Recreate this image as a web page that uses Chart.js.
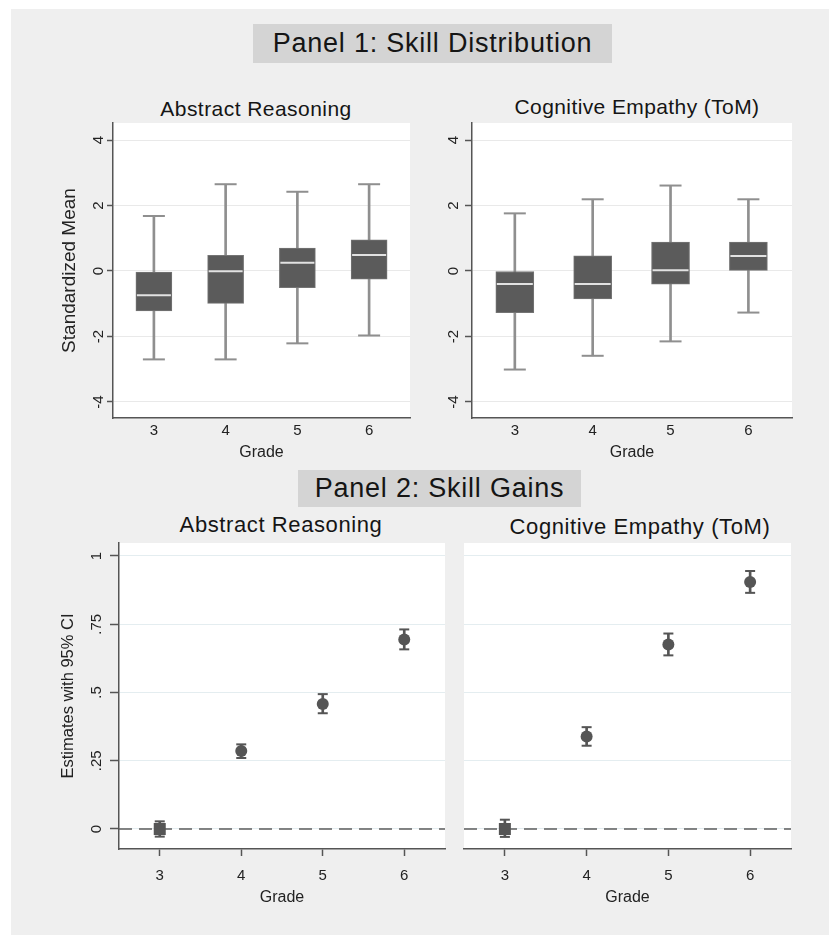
<!DOCTYPE html>
<html>
<head>
<meta charset="utf-8">
<script src="https://cdn.jsdelivr.net/npm/chart.js@4"></script>
<style>
  body { margin: 0; width: 829px; height: 935px; position: relative; overflow: hidden; background: #fff;
         font-family: "Liberation Sans", Arial, sans-serif; }
  #bg { position: absolute; left: 11px; top: 9px; width: 818px; height: 926px; background: #efefef; }
  .panel { position: absolute; background: #d4d4d4; color: #151515; font-size: 27px; letter-spacing: 0.78px;
           display: flex; align-items: center; justify-content: center; white-space: nowrap; }
  .sub { position: absolute; color: #151515; white-space: nowrap; line-height: 1; transform: translate(-50%, -50%); }
  canvas { position: absolute; }
</style>
</head>
<body>
<div id="bg"></div>
<div class="panel" style="left:253px; top:24px; width:359px; height:39px;">Panel 1: Skill Distribution</div>
<div class="panel" style="left:298px; top:470px; width:283px; height:37px;">Panel 2: Skill Gains</div>

<div class="sub" style="left:256px; top:108px; font-size:21px; letter-spacing:0.45px;">Abstract Reasoning</div>
<div class="sub" style="left:637px; top:106px; font-size:21px; letter-spacing:0.4px;">Cognitive Empathy (ToM)</div>
<div class="sub" style="left:281px; top:525px; font-size:22px; letter-spacing:0.6px;">Abstract Reasoning</div>
<div class="sub" style="left:640px; top:527px; font-size:22px; letter-spacing:0.6px;">Cognitive Empathy (ToM)</div>

<canvas id="p1a" width="380" height="355" style="left:40px; top:115px;"></canvas>
<canvas id="p1b" width="382" height="355" style="left:420px; top:115px;"></canvas>
<canvas id="p2a" width="415" height="380" style="left:40px; top:535px;"></canvas>
<canvas id="p2b" width="346" height="380" style="left:455px; top:535px;"></canvas>

<script>
var grades = [3, 4, 5, 6];

// Panel 1: box plots (lower whisker, Q1, median, Q3, upper whisker)
var arMin = [-2.70, -2.70, -2.21, -1.97];
var arQ1  = [-1.22, -0.99, -0.51, -0.25];
var arMed = [-0.74, -0.01, 0.25, 0.49];
var arQ3  = [-0.03, 0.48, 0.70, 0.95];
var arMax = [1.68, 2.65, 2.42, 2.65];

var ceMin = [-3.01, -2.59, -2.15, -1.27];
var ceQ1  = [-1.27, -0.85, -0.40, 0.02];
var ceMed = [-0.40, -0.40, 0.02, 0.46];
var ceQ3  = [0.00, 0.46, 0.88, 0.88];
var ceMax = [1.76, 2.19, 2.61, 2.19];

// Panel 2: estimates with 95% CI
var arEst = [0.000, 0.286, 0.458, 0.694];
var arLo  = [-0.028, 0.260, 0.424, 0.658];
var arHi  = [0.028, 0.310, 0.494, 0.731];

var ceEst = [0.000, 0.339, 0.676, 0.905];
var ceLo  = [-0.029, 0.305, 0.636, 0.865];
var ceHi  = [0.034, 0.373, 0.716, 0.945];

var p1Ticks = [-4, -2, 0, 2, 4];
var p1Labels = ['-4', '-2', '0', '2', '4'];
var p2Ticks = [0, 0.25, 0.5, 0.75, 1];
var p2Labels = ['0', '.25', '.5', '.75', '1'];

var FONT = '"Liberation Sans", Arial, sans-serif';
Chart.defaults.font.family = FONT;
Chart.defaults.color = '#222';

var axisColor = '#555';
var boxColor = '#5b5b5b';
var whiskerColor = '#8f8f8f';
var markColor = '#555';

// white plot region
var plotBg = {
  id: 'plotBg',
  beforeDraw: function(chart) {
    var a = chart.chartArea, ctx = chart.ctx;
    ctx.save();
    ctx.fillStyle = '#fff';
    ctx.fillRect(a.left, a.top, a.right - a.left, a.bottom - a.top);
    ctx.restore();
  }
};

// vertical (rotated) y tick labels, as Stata draws them
var rotYTicks = {
  id: 'rotYTicks',
  afterDraw: function(chart, args, opts) {
    if (!opts.labels) return;
    var s = chart.scales.y, ctx = chart.ctx;
    ctx.save();
    ctx.font = '15px ' + FONT;
    ctx.fillStyle = '#222';
    ctx.textAlign = 'center';
    ctx.textBaseline = 'middle';
    for (var i = 0; i < opts.values.length; i++) {
      ctx.save();
      ctx.translate(opts.x, s.getPixelForValue(opts.values[i]));
      ctx.rotate(-Math.PI / 2);
      ctx.fillText(opts.labels[i], 0, 1);
      ctx.restore();
    }
    ctx.restore();
  }
};

function xScale(min, max, height, tickLen, pad) {
  return {
    type: 'linear', min: min, max: max, offset: false,
    afterBuildTicks: function(s) { s.ticks = grades.map(function(g) { return {value: g}; }); },
    afterFit: function(s) { s.height = height; },
    grid: { display: true, offset: false, drawOnChartArea: false, drawTicks: tickLen > 0, tickLength: tickLen,
            tickColor: axisColor, tickWidth: 1.5 },
    border: { display: true, color: axisColor, width: 1.5 },
    ticks: { font: { size: 15 }, padding: pad, maxRotation: 0, autoSkip: false },
    title: { display: true, text: 'Grade', font: { size: 16 }, padding: { top: 0, bottom: 8 } }
  };
}

function boxChart(id, mins, q1s, meds, q3s, maxs, cfg) {
  var whisk = [], boxes = [], caps = [], medians = [];
  for (var i = 0; i < grades.length; i++) {
    whisk.push({x: grades[i], y: [mins[i], maxs[i]]});
    boxes.push({x: grades[i], y: [q1s[i], q3s[i]]});
    caps.push({x: grades[i], y: mins[i]});
    caps.push({x: grades[i], y: maxs[i]});
    medians.push({x: grades[i], y: meds[i]});
  }
  return new Chart(document.getElementById(id), {
    type: 'scatter',
    data: {
      datasets: [
        { type: 'bar', data: whisk, backgroundColor: whiskerColor, barThickness: 2, grouped: false, order: 3 },
        { type: 'bar', data: boxes, backgroundColor: boxColor, borderColor: '#747474', borderWidth: 1,
          borderSkipped: false, barThickness: cfg.boxW, grouped: false, order: 2 },
        { data: caps, pointStyle: 'line', pointRadius: 11, pointHoverRadius: 11,
          pointBorderColor: whiskerColor, pointBorderWidth: 2, order: 1 },
        { data: medians, pointStyle: 'line', pointRadius: cfg.boxW / 2 - 1, pointHoverRadius: cfg.boxW / 2 - 1,
          pointBorderColor: '#e2e2e2', pointBorderWidth: 2, order: 0 }
      ]
    },
    options: {
      responsive: false, animation: false,
      layout: { autoPadding: false, padding: { top: 8, right: 10, left: 0, bottom: 0 } },
      plugins: {
        legend: { display: false }, tooltip: { enabled: false },
        rotYTicks: { x: cfg.labelX, values: p1Ticks, labels: p1Labels }
      },
      scales: {
        x: xScale(cfg.xMin, cfg.xMax, 52, 0, 4),
        y: {
          min: -4.49, max: 4.52,
          afterBuildTicks: function(s) { s.ticks = p1Ticks.map(function(v) { return {value: v}; }); },
          afterFit: function(s) { s.width = cfg.yWidth; },
          grid: { color: '#e9e9e9', tickColor: axisColor, tickLength: cfg.tickLen, tickWidth: 1.5 },
          border: { display: true, color: axisColor, width: 1.5 },
          ticks: { display: false },
          title: { display: !!cfg.yTitle, text: cfg.yTitle || '', font: { size: 19 }, padding: { top: 18.6, bottom: 0 } }
        }
      }
    },
    plugins: [plotBg, rotYTicks]
  });
}

function gainChart(id, est, lo, hi, cfg) {
  var bars = [], caps = [], pts = [];
  for (var i = 0; i < grades.length; i++) {
    bars.push({x: grades[i], y: [lo[i], hi[i]]});
    caps.push({x: grades[i], y: lo[i]});
    caps.push({x: grades[i], y: hi[i]});
    pts.push({x: grades[i], y: est[i]});
  }
  var xMin = 2.5, xMax = 6.5;
  return new Chart(document.getElementById(id), {
    type: 'scatter',
    data: {
      datasets: [
        { type: 'line', data: [{x: xMin, y: 0}, {x: xMax, y: 0}], borderColor: '#5e5e5e', borderWidth: 1.5,
          borderDash: [13, 7], pointRadius: 0, pointHoverRadius: 0, order: 5 },
        { type: 'bar', data: bars, backgroundColor: markColor, barThickness: 2, grouped: false, order: 3 },
        { data: caps, pointStyle: 'line', pointRadius: 5, pointHoverRadius: 5,
          pointBorderColor: markColor, pointBorderWidth: 2, order: 2 },
        { data: pts, pointStyle: ['rect', 'circle', 'circle', 'circle'], pointRadius: [8.5, 6, 6, 6],
          pointHoverRadius: [8.5, 6, 6, 6], pointBackgroundColor: markColor, pointBorderColor: markColor,
          pointBorderWidth: 0, order: 1 }
      ]
    },
    options: {
      responsive: false, animation: false,
      layout: { autoPadding: false, padding: { top: 8, right: 10, left: 0, bottom: 0 } },
      plugins: {
        legend: { display: false }, tooltip: { enabled: false },
        rotYTicks: cfg.labelX ? { x: cfg.labelX, values: p2Ticks, labels: p2Labels } : {}
      },
      scales: {
        x: xScale(xMin, xMax, 66, 7, 11),
        y: {
          min: -0.0733, max: 1.0476,
          afterBuildTicks: function(s) { s.ticks = p2Ticks.map(function(v) { return {value: v}; }); },
          afterFit: function(s) { s.width = cfg.yWidth; },
          grid: { color: '#e4edf0', tickColor: axisColor, drawTicks: cfg.showAxis, tickLength: 9, tickWidth: 1.5 },
          border: { display: cfg.showAxis, color: axisColor, width: 1.5 },
          ticks: { display: false },
          title: { display: !!cfg.yTitle, text: cfg.yTitle || '', font: { size: 16.5 }, padding: { top: 19, bottom: 0 } }
        }
      }
    },
    plugins: [plotBg, rotYTicks]
  });
}

boxChart('p1a', arMin, arQ1, arMed, arQ3, arMax,
  { xMin: 2.43, xMax: 6.57, boxW: 36, yWidth: 73, tickLen: 6, labelX: 57.5, yTitle: 'Standardized Mean' });
boxChart('p1b', ceMin, ceQ1, ceMed, ceQ3, ceMax,
  { xMin: 2.45, xMax: 6.56, boxW: 38, yWidth: 52, tickLen: 7, labelX: 32.5 });
gainChart('p2a', arEst, arLo, arHi,
  { yWidth: 79, labelX: 56, showAxis: true, yTitle: 'Estimates with 95% CI' });
gainChart('p2b', ceEst, ceLo, ceHi,
  { yWidth: 9, showAxis: false });
</script>
</body>
</html>
